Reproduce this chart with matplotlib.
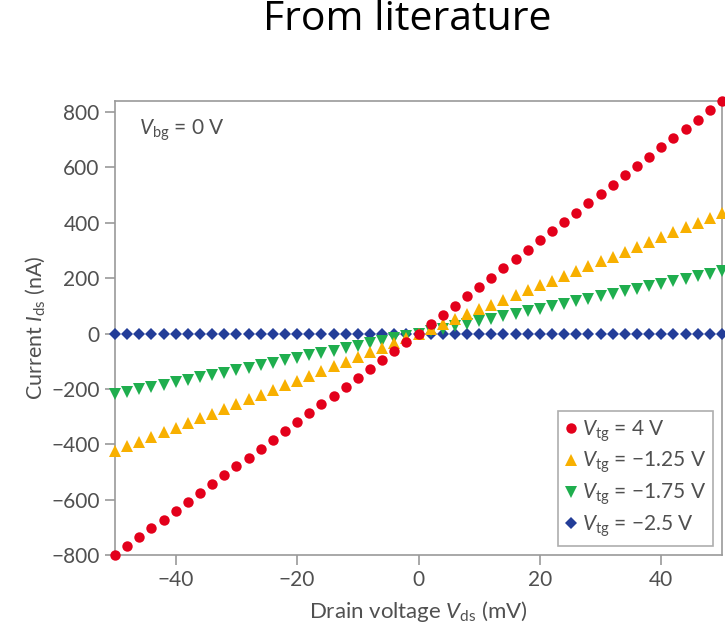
import numpy as np
import matplotlib.pyplot as plt

# drain voltage (mV), step 2 mV
vds = list(range(-50, 52, 2))

# current (nA) for each top-gate voltage
i_4v = [-800, -768, -736, -704, -672, -640, -608, -576, -544, -512, -480, -448, -416,
        -384, -352, -320, -288, -256, -224, -192, -160, -128, -96, -64, -32, 0,
        34, 67, 101, 134, 168, 202, 235, 269, 302, 336, 370, 403, 437, 470, 504,
        538, 571, 605, 638, 672, 706, 739, 773, 806, 840]
i_m125 = [-425, -408, -391, -374, -357, -340, -323, -306, -289, -272, -255, -238, -221,
          -204, -187, -170, -153, -136, -119, -102, -85, -68, -51, -34, -17, 0,
          17, 35, 52, 70, 87, 104, 122, 139, 157, 174, 191, 209, 226, 244, 261,
          278, 296, 313, 331, 348, 365, 383, 400, 418, 435]
i_m175 = [-220, -211, -202, -194, -185, -176, -167, -158, -150, -141, -132, -123, -114,
          -106, -97, -88, -79, -70, -62, -53, -44, -35, -26, -18, -9, 0,
          9, 18, 27, 36, 45, 54, 63, 72, 81, 90, 99, 108, 117, 126, 135,
          144, 153, 162, 171, 180, 189, 198, 207, 216, 225]
i_m25 = [0] * 51

labels = ["$V_{\\rm tg}$ = 4 V", "$V_{\\rm tg}$ = \u22121.25 V",
          "$V_{\\rm tg}$ = \u22121.75 V", "$V_{\\rm tg}$ = \u22122.5 V"]
xticks = [-40, -20, 0, 20, 40]
yticks = [-800, -600, -400, -200, 0, 200, 400, 600, 800]

plt.rcParams['font.family'] = ['Lato', 'DejaVu Sans']
plt.rcParams['mathtext.fontset'] = 'custom'
plt.rcParams['mathtext.rm'] = 'Lato'
plt.rcParams['mathtext.it'] = 'Lato:italic'

grey = "#9a9a9a"
txt = "#505050"
fs = 15

fig = plt.figure(figsize=(7.25, 6.35), dpi=100)
ax = fig.add_axes([0.1586, 0.126, 0.8373, 0.715])

ax.plot(vds, i_m25, "D", color="#233d98", ms=6.5, mew=0, label=labels[3], clip_on=False, zorder=3)
ax.plot(vds, i_m175, "v", color="#1fae4e", ms=8, mew=0, label=labels[2], clip_on=False, zorder=4)
ax.plot(vds, i_m125, "^", color="#f8b000", ms=8, mew=0, label=labels[1], clip_on=False, zorder=5)
ax.plot(vds, i_4v, "o", color="#e3001b", ms=7.5, mew=0, label=labels[0], clip_on=False, zorder=6)

ax.set_xlim(-50, 50)
ax.set_ylim(-800, 840)
ax.set_xticks(xticks)
ax.set_yticks(yticks)
ax.set_xticklabels([str(v).replace("-", "\u2212") for v in xticks])
ax.set_yticklabels([str(v).replace("-", "\u2212") for v in yticks])

for s in ax.spines.values():
    s.set_color(grey)
    s.set_linewidth(1.2)
ax.tick_params(direction="out", length=7, width=1.2, color=grey,
               labelsize=fs, labelcolor=txt, pad=4)

ax.set_xlabel("Drain voltage $V_{\\rm ds}$ (mV)", fontsize=16, color=txt, labelpad=6)
ax.set_ylabel("Current $I_{\\rm ds}$ (nA)", fontsize=15.5, color=txt, labelpad=3)

ax.text(0.04, 0.935, "$V_{\\rm bg}$ = 0 V", transform=ax.transAxes,
        fontsize=fs, color=txt, va="center")

h, l = ax.get_legend_handles_labels()
leg = ax.legend(h[::-1], l[::-1], loc="lower right", fontsize=fs,
                frameon=True, fancybox=False, handletextpad=0.2,
                handlelength=0.6, borderaxespad=0.42, labelspacing=0.3,
                borderpad=0.35)
leg.get_frame().set_edgecolor(grey)
leg.get_frame().set_linewidth(1.2)
for t in leg.get_texts():
    t.set_color(txt)

fig.text(0.562, 0.953, "From literature", fontsize=29.5, ha="center", va="baseline",
         color="black", family="Open Sans")

fig.savefig("out.png", dpi=100)
